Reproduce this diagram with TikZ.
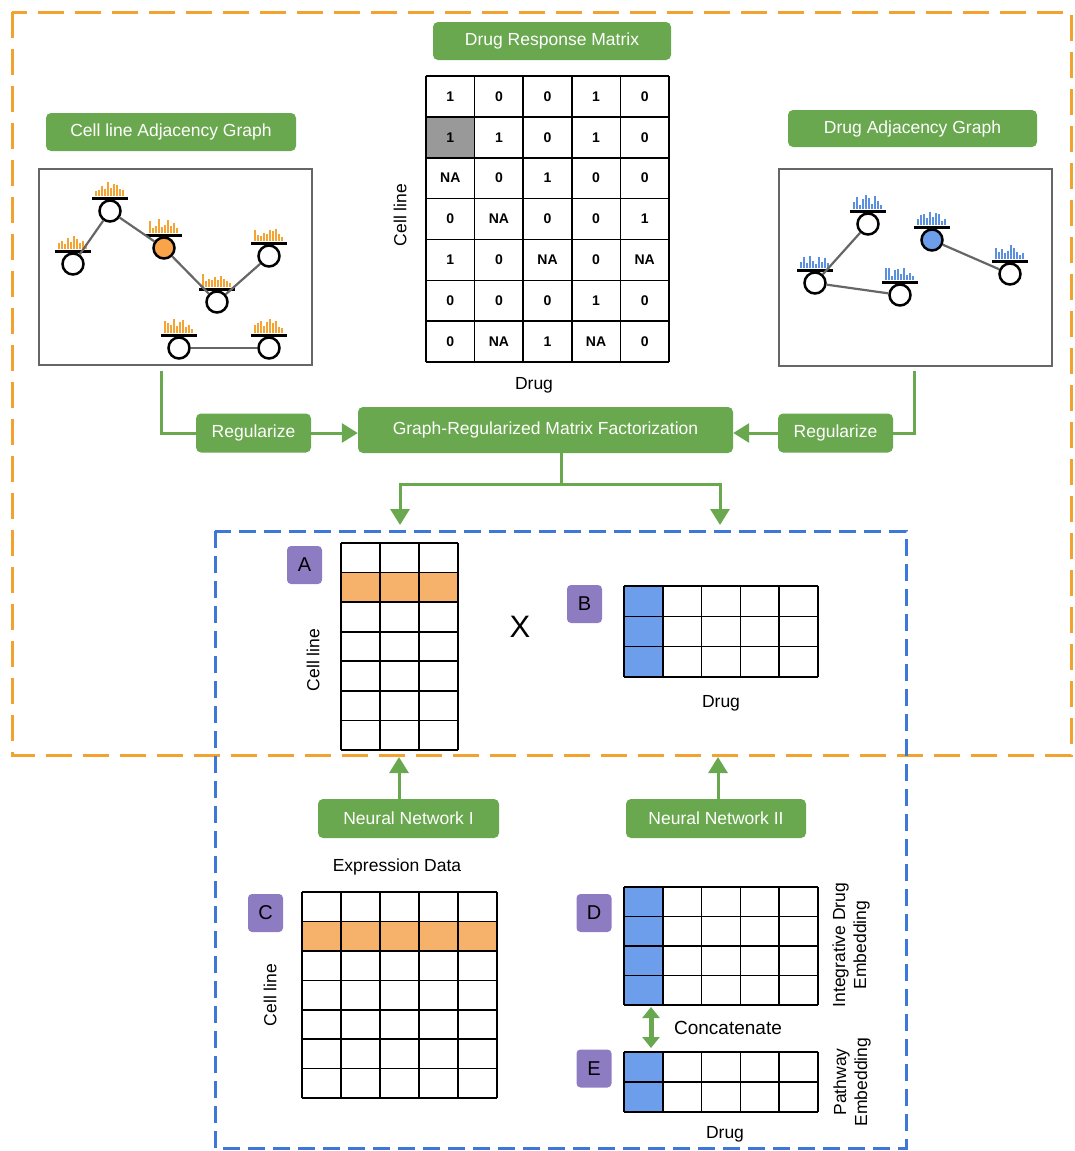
\documentclass[tikz,border=0pt]{standalone}
\usepackage{fontspec}
\setmainfont{Liberation Sans}
\usetikzlibrary{arrows.meta}
\definecolor{gr}{HTML}{6AA84F}
\definecolor{org}{HTML}{F1A22F}
\definecolor{blu}{HTML}{3D78D8}
\definecolor{pur}{HTML}{8E7CC3}
\definecolor{ofill}{HTML}{F6B26B}
\definecolor{bfill}{HTML}{6D9EEB}
\definecolor{obar}{HTML}{F3A433}
\definecolor{bbar}{HTML}{5B8FE0}
\definecolor{cellgray}{HTML}{999999}
\definecolor{frame}{HTML}{666666}
\newcommand\mgrid[6]{%
  \foreach \i in {0,...,#3} \draw[gridl] ({#1+\i*#5},#2) -- ({#1+\i*#5},{#2+#4*#6});
  \foreach \j in {0,...,#4} \draw[gridl] (#1,{#2+\j*#6}) -- ({#1+#3*#5},{#2+\j*#6});
}
\newcommand\gnode[6]{%
  \node[gcirc, fill=#4] (#1) at (#2,#3) {};
  \fill[black] ({#2-18},{#3-14.5}) rectangle ({#2+18},{#3-11});
  \foreach \h [count=\k] in {#6}
    \fill[#5] ({#2-15+(\k-1)*3},{#3-15}) rectangle ({#2-15+(\k-1)*3+2.1},{#3-15-1.2*\h});
}
\begin{document}
\begin{tikzpicture}[x=1pt,y=-1pt,
  lab/.style={fill=gr, text=white, rounded corners=5pt, inner sep=0pt,
    font=\fontsize{17.5}{21}\selectfont},
  txt/.style={font=\fontsize{17.5}{21}\selectfont, inner sep=0pt},
  num/.style={font=\bfseries\fontsize{14}{16}\selectfont, inner sep=0pt},
  letter/.style={fill=pur, rounded corners=4pt, minimum width=35pt, minimum height=38pt,
    inner sep=0pt, font=\fontsize{20}{24}\selectfont},
  gridl/.style={line width=1.6pt, black},
  gline/.style={line width=3pt, gr},
  garrow/.style={gline, -{Triangle[length=16pt,width=19pt]}},
  gcirc/.style={circle, draw=black, line width=2.5pt, minimum size=21pt, inner sep=0pt},
  gedge/.style={line width=2.2pt, frame},
]
\useasboundingbox (0,0) rectangle (1074,1151);

% dashed frames
\draw[org, line width=3pt, dash pattern=on 26pt off 11pt] (12,12) rectangle (1071,755);
\draw[blu, line width=3pt, dash pattern=on 17pt off 8pt] (215,531) rectangle (906,1148);

% titles
\node[lab, minimum width=238pt, minimum height=38pt] (drm) at (552,41) {Drug Response Matrix};
\node[lab, minimum width=250pt, minimum height=38pt] (clag) at (171,132) {Cell line Adjacency Graph};
\node[lab, minimum width=249pt, minimum height=37pt] (dag) at (912.5,128.5) {Drug Adjacency Graph};

% graph frames
\draw[frame, line width=2.5pt] (39,169) rectangle (312,365);
\draw[frame, line width=2.5pt] (779,169) rectangle (1052,366);

% cell line graph
\gnode{n1}{73}{264}{white}{obar}{5,7,4,9,6,11,8,5,7,4}
\gnode{n2}{110}{211}{white}{obar}{4,5,8,6,12,7,10,9,6,5}
\gnode{n3}{164}{248}{ofill!70!orange}{obar}{10,4,6,12,5,7,11,6,8,4}
\gnode{n4}{217}{302}{white}{obar}{11,5,7,6,8,6,9,7,5,3}
\gnode{n5}{269}{256}{white}{obar}{9,5,4,7,6,9,8,10,6,3}
\gnode{n6}{179}{348}{white}{obar}{10,8,7,12,6,9,11,5,7,3}
\gnode{n7}{269}{348}{white}{obar}{7,8,10,6,9,12,8,10,5,4}
\draw[gedge] (n1) -- (n2);
\draw[gedge] (n2) -- (n3);
\draw[gedge] (n3) -- (n4);
\draw[gedge] (n4) -- (n5);
\draw[gedge] (n6) -- (n7);

% drug graph
\gnode{m1}{868}{224}{white}{bbar}{6,10,3,8,12,9,4,11,7,3}
\gnode{m2}{815}{283}{white}{bbar}{5,9,4,10,6,3,9,5,8,4}
\gnode{m3}{900}{295}{white}{bbar}{10,10,3,8,9,5,10,4,6,3}
\gnode{m4}{932}{240}{bfill}{bbar}{5,8,9,6,11,7,10,9,3,5}
\gnode{m5}{1010}{274}{white}{bbar}{9,6,8,5,7,12,9,6,3,5}
\draw[gedge] (m1) -- (m2);
\draw[gedge] (m2) -- (m3);
\draw[gedge] (m4) -- (m5);

% response matrix
\fill[cellgray] (426,{76+40.86}) rectangle ({426+48.6},{76+2*40.86});
\mgrid{426}{76}{5}{7}{48.6}{40.86}
\foreach \row [count=\r] in {{1,0,0,1,0},{1,1,0,1,0},{NA,0,1,0,0},{0,NA,0,0,1},{1,0,NA,0,NA},{0,0,0,1,0},{0,NA,1,NA,0}}{
  \foreach \v [count=\c] in \row
    \node[num] (v\r\c) at ({426+(\c-0.5)*48.6},{76+(\r-0.5)*40.86}) {\v};
}
\node[txt, rotate=90] (rmcell) at (400,215) {Cell line};
\node[txt] (rmdrug) at (534,385) {Drug};

% GRMF row
\node[lab, minimum width=115pt, minimum height=39pt] (regL) at (253.5,433) {Regularize};
\node[lab, minimum width=375pt, minimum height=46pt] (grmf) at (545.5,430) {Graph-Regularized Matrix Factorization};
\node[lab, minimum width=115pt, minimum height=39pt] (regR) at (835.5,433) {Regularize};
\coordinate (cL) at (161,371);
\coordinate (cR) at (914,371);
\draw[gline] (cL) |- (regL.west);
\draw[gline] (cR) |- (regR.east);
\draw[garrow] (regL.east) -- (regL.east -| grmf.west);
\draw[garrow] (regR.west) -- (regR.west -| grmf.east);
\coordinate (split) at (561,484);
\coordinate (tipL) at (400,525);
\coordinate (tipR) at (720,525);
\draw[gline] (grmf.south -| split) -- (split);
\draw[garrow] (split) -| (tipL);
\draw[garrow] (split) -| (tipR);

% matrix A
\fill[ofill] (341,{543+29.57}) rectangle (458,{543+2*29.57});
\mgrid{341}{543}{3}{7}{39}{29.57}
\node[letter] (la) at (304.5,565) {A};
\node[txt, rotate=90] (acell) at (313,660) {Cell line};
\node[font=\fontsize{31}{36}\selectfont, inner sep=0pt] (times) at (520,627) {X};

% matrix B
\fill[bfill] (624,586) rectangle ({624+38.8},{586+3*30.3});
\mgrid{624}{586}{5}{3}{38.8}{30.3}
\node[letter] (lb) at (584.5,604) {B};
\node[txt] (bdrug) at (721,703) {Drug};

% neural networks
\node[lab, minimum width=181pt, minimum height=39pt] (nn1) at (408.5,818.5) {Neural Network I};
\node[lab, minimum width=180pt, minimum height=39pt] (nn2) at (716,818.5) {Neural Network II};
\coordinate (tipA) at (399,757);
\coordinate (tipB) at (718,757);
\draw[garrow] (nn1.north -| tipA) -- (tipA);
\draw[garrow] (nn2.north -| tipB) -- (tipB);

% matrix C
\node[txt] (expr) at (397,867) {Expression Data};
\fill[ofill] (302,{892+29.43}) rectangle (497,{892+2*29.43});
\mgrid{302}{892}{5}{7}{39}{29.43}
\node[letter] (lc) at (265.5,913) {C};
\node[txt, rotate=90] (ccell) at (270,995) {Cell line};

% matrix D
\fill[bfill] (624,887) rectangle ({624+38.8},{887+4*29.5});
\mgrid{624}{887}{5}{4}{38.8}{29.5}
\node[letter] (ld) at (594,913) {D};
\node[txt, rotate=90, align=center] (dlab) at (851,945) {Integrative Drug\\Embedding};

% matrix E
\fill[bfill] (624,1052) rectangle ({624+38.8},{1052+2*30});
\mgrid{624}{1052}{5}{2}{38.8}{30}
\node[letter] (le) at (594,1068.5) {E};
\node[txt, rotate=90, align=center] (elab) at (852,1082) {Pathway\\Embedding};
\node[txt] (edrug) at (725,1134) {Drug};

% concatenate
\coordinate (cTop) at (651,1007);
\coordinate (cBot) at (651,1048);
\draw[gr, line width=5pt, {Triangle[length=11pt,width=17pt]}-{Triangle[length=11pt,width=17pt]}] (cTop) -- (cBot);
\node[font=\fontsize{19}{23}\selectfont, inner sep=0pt] (concat) at (728,1028) {Concatenate};
\end{tikzpicture}
\end{document}
